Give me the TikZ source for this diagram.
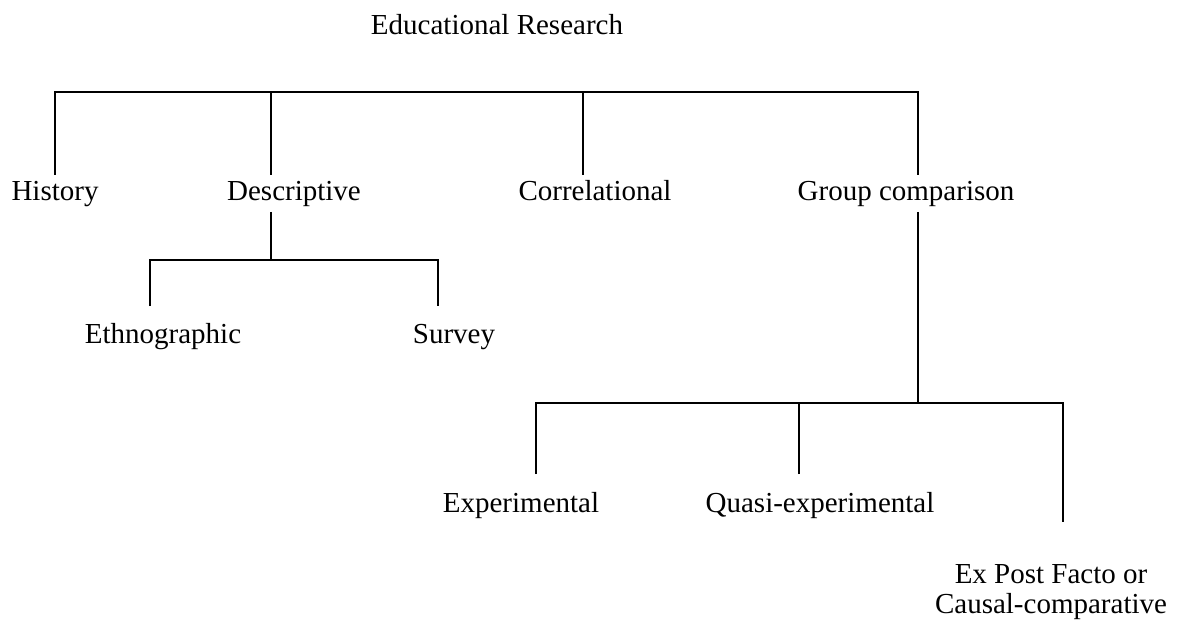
\documentclass[tikz,border=0pt]{standalone}
\usepackage{fontspec}
\setmainfont{Liberation Serif}
\usetikzlibrary{positioning,calc}
\begin{document}
\begin{tikzpicture}[x=0.75pt,y=-0.75pt,line width=1.5pt,
  lbl/.style={font=\fontsize{21.75}{22}\selectfont,inner sep=0pt,anchor=base}]
\useasboundingbox (0,0) rectangle (1178,624);
% labels
\node[lbl] (root) at (497,35) {Educational Research};
\node[lbl] (hist) at (55,200) {History};
\node[lbl] (desc) at (294,200) {Descriptive};
\node[lbl] (corr) at (595,200) {Correlational};
\node[lbl] (grp)  at (906,200) {Group comparison};
\node[lbl] (ethn) at (163,343) {Ethnographic};
\node[lbl] (surv) at (454,343) {Survey};
\node[lbl] (expe) at (521,512) {Experimental};
\node[lbl] (quas) at (820,512) {Quasi-experimental};
\node[lbl,align=center,anchor=center] (expf) at (1051,592) {Ex Post Facto or\\Causal-comparative};
% top level
\coordinate (hist-up) at (55,175);
\coordinate (desc-up) at (271,175);
\coordinate (corr-up) at (583,175);
\coordinate (grp-up)  at (918,175);
\coordinate (bar1) at (0,92);
\draw (hist-up) -- (hist-up |- bar1) -- (grp-up |- bar1) -- (grp-up);
\draw (desc-up) -- (desc-up |- bar1);
\draw (corr-up) -- (corr-up |- bar1);
% descriptive
\coordinate (desc-dn) at (271,212);
\coordinate (bar2) at (0,260);
\coordinate (ethn-up) at (150,306);
\coordinate (surv-up) at (438,306);
\draw (desc-dn) -- (desc-dn |- bar2);
\draw (ethn-up) -- (ethn-up |- bar2) -- (surv-up |- bar2) -- (surv-up);
% group comparison
\coordinate (grp-dn) at (918,212);
\coordinate (bar3) at (0,403);
\coordinate (expe-up) at (536,474);
\coordinate (quas-up) at (799,474);
\coordinate (expf-up) at (1063,522);
\draw (grp-dn) -- (grp-dn |- bar3);
\draw (expe-up) -- (expe-up |- bar3) -- (expf-up |- bar3) -- (expf-up);
\draw (quas-up) -- (quas-up |- bar3);
\end{tikzpicture}
\end{document}
